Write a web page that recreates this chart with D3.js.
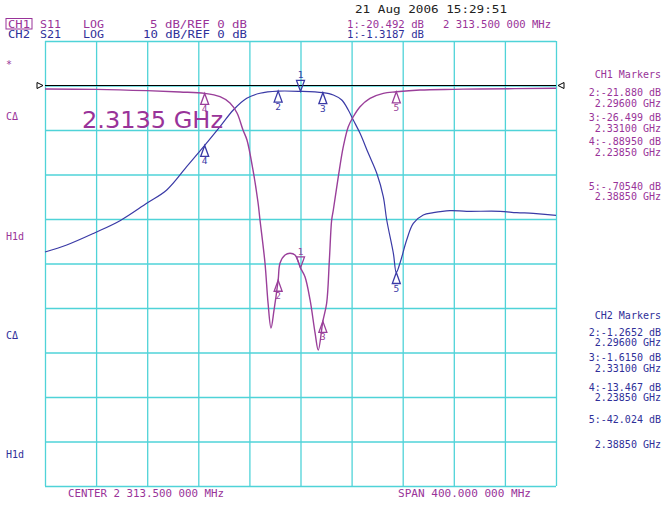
<!DOCTYPE html>
<html>
<head>
<meta charset="utf-8">
<script src="https://d3js.org/d3.v7.min.js"></script>
<style>
  body { margin: 0; background: white; }
  text { font-family: "DejaVu Sans Mono", monospace; font-size: 10px; }
</style>
</head>
<body>
<script>
  // Network analyzer screen: CH1 = S11 (5 dB/div), CH2 = S21 (10 dB/div)
  var width = 664;
  var height = 505;

  // S11 trace, frequency in MHz and level in dB
  var s11Freq = [2113.5, 2153.4, 2193.3, 2219.2, 2238.5, 2250.5, 2258.3, 2263.8, 2268.5, 2271.6,
    2276.3, 2280.2, 2281.8, 2285.7, 2288.1, 2290.4, 2292.8, 2296.0, 2297.5, 2301.4,
    2305.3, 2309.2, 2313.5, 2317.0, 2321.0, 2324.9, 2327.4, 2331.0, 2334.0, 2336.1,
    2337.9, 2339.2, 2343.1, 2347.0, 2350.9, 2354.8, 2360.1, 2367.9, 2378.3, 2388.5,
    2407.0, 2432.9, 2454.0, 2513.5];
  var s11Db = [-0.39, -0.43, -0.58, -0.73, -0.89, -1.26, -1.97, -3.09, -5.0, -6.12,
    -9.49, -13.09, -15.11, -19.94, -24.44, -27.25, -25.22, -21.88, -19.94, -19.04,
    -18.85, -19.04, -20.49, -21.48, -24.1, -27.8, -29.72, -26.5, -24.44, -19.6,
    -15.11, -13.99, -10.25, -6.88, -4.63, -3.51, -2.38, -1.44, -0.88, -0.71,
    -0.51, -0.43, -0.39, -0.31];

  // S21 trace
  var s21Freq = [2113.5, 2130.5, 2152.6, 2172.2, 2193.1, 2208.8, 2224.4, 2238.5, 2250.5, 2260.9,
    2271.4, 2281.8, 2296.0, 2313.5, 2331.0, 2339.2, 2345.8, 2350.9, 2354.8, 2360.1,
    2366.6, 2373.2, 2378.3, 2381.0, 2386.2, 2388.5, 2391.4, 2396.6, 2401.8, 2409.6,
    2417.5, 2430.5, 2443.6, 2469.7, 2482.7, 2495.7, 2513.5];
  var s21Db = [-37.42, -35.84, -33.08, -30.38, -26.47, -23.48, -18.25, -13.47, -9.26, -5.51,
    -2.88, -1.75, -1.27, -1.32, -1.62, -2.13, -3.26, -5.51, -7.75, -10.74,
    -15.24, -19.73, -24.99, -30.22, -37.71, -42.02, -39.89, -34.72, -30.97, -29.1,
    -28.58, -28.13, -28.27, -28.27, -28.58, -28.72, -29.17];

  // markers
  var markerIds = ["1", "2", "3", "4", "5"];
  var markerFreq = [2313.5, 2296.0, 2331.0, 2238.5, 2388.5];
  var s11MarkerDb = [-20.492, -21.880, -26.499, -0.8895, -0.7054];
  var s21MarkerDb = [-1.3187, -1.2652, -1.6150, -13.467, -42.024];
  var ch1MarkerText = ["2:-21.880 dB", "2.29600 GHz", "3:-26.499 dB", "2.33100 GHz",
    "4:-.88950 dB", "2.23850 GHz", "5:-.70540 dB", "2.38850 GHz"];
  var ch2MarkerText = ["2:-1.2652 dB", "2.29600 GHz", "3:-1.6150 dB", "2.33100 GHz",
    "4:-13.467 dB", "2.23850 GHz", "5:-42.024 dB", "2.38850 GHz"];

  var magenta = "#9a3f9a";
  var magentaText = "#993399";
  var blue = "#3a3aa6";
  var blueText = "#2f2f99";
  var gridColor = "#4fd3d8";

  var svg = d3.select("body").append("svg")
    .attr("width", width)
    .attr("height", height);

  // plot area
  var plotLeft = 45, plotRight = 556, plotTop = 41, plotBottom = 486;

  var x = d3.scaleLinear().domain([2113.5, 2513.5]).range([plotLeft, plotRight]);
  var y1 = d3.scaleLinear().domain([5, -45]).range([plotTop, plotBottom]);   // CH1 5 dB/div
  var y2 = d3.scaleLinear().domain([10, -90]).range([plotTop, plotBottom]);  // CH2 10 dB/div

  // grid using axes with full length ticks
  var xGrid = d3.range(0, 11).map(function(i) { return 2113.5 + i * 40; });
  var yGrid = d3.range(0, 11).map(function(i) { return 5 - i * 5; });

  svg.append("g")
    .attr("transform", "translate(0," + plotBottom + ")")
    .call(d3.axisBottom(x).tickValues(xGrid).tickSize(-(plotBottom - plotTop)).tickFormat(""))
    .call(function(g) {
      g.select(".domain").remove();
      g.selectAll("line").attr("stroke", gridColor).attr("stroke-width", 1.3);
    });

  svg.append("g")
    .attr("transform", "translate(" + plotLeft + ",0)")
    .call(d3.axisLeft(y1).tickValues(yGrid).tickSize(-(plotRight - plotLeft)).tickFormat(""))
    .call(function(g) {
      g.select(".domain").remove();
      g.selectAll("line").attr("stroke", gridColor).attr("stroke-width", 1.3);
    });

  // reference line at 0 dB
  var refY = y1(0);
  svg.append("line")
    .attr("x1", plotLeft).attr("x2", plotRight)
    .attr("y1", refY).attr("y2", refY)
    .attr("stroke", "black").attr("stroke-width", 1.2);
  svg.append("path")
    .attr("d", "M" + (plotLeft - 8) + "," + (refY - 3) + " L" + (plotLeft - 2) + "," + refY + " L" + (plotLeft - 8) + "," + (refY + 3) + " Z")
    .attr("fill", "none").attr("stroke", "black");
  svg.append("path")
    .attr("d", "M" + (plotRight + 8) + "," + (refY - 3) + " L" + (plotRight + 2) + "," + refY + " L" + (plotRight + 8) + "," + (refY + 3) + " Z")
    .attr("fill", "none").attr("stroke", "black");

  // traces
  var s11Line = d3.line()
    .x(function(d, i) { return x(s11Freq[i]); })
    .y(function(d) { return y1(d); })
    .curve(d3.curveCatmullRom);
  var s21Line = d3.line()
    .x(function(d, i) { return x(s21Freq[i]); })
    .y(function(d) { return y2(d); })
    .curve(d3.curveCatmullRom);

  svg.append("path")
    .attr("d", s21Line(s21Db))
    .attr("fill", "none").attr("stroke", blue).attr("stroke-width", 1.2);
  svg.append("path")
    .attr("d", s11Line(s11Db))
    .attr("fill", "none").attr("stroke", magenta).attr("stroke-width", 1.4);

  // marker triangles: 1 points down from above, the rest point up from below
  function drawMarkers(yScale, values, color) {
    values.forEach(function(v, i) {
      var mx = x(markerFreq[i]);
      var my = yScale(v);
      var d, ly;
      if (i == 0) {
        d = "M" + mx + "," + my + " L" + (mx - 4) + "," + (my - 11) + " L" + (mx + 4) + "," + (my - 11) + " Z";
        ly = my - 13;
      } else {
        d = "M" + mx + "," + my + " L" + (mx - 4) + "," + (my + 11) + " L" + (mx + 4) + "," + (my + 11) + " Z";
        ly = my + 19;
      }
      svg.append("path")
        .attr("d", d)
        .attr("fill", "none").attr("stroke", color).attr("stroke-width", 1.3);
      svg.append("text")
        .attr("x", mx).attr("y", ly)
        .attr("text-anchor", "middle")
        .style("font-size", "9.5px")
        .attr("fill", color)
        .text(markerIds[i]);
    });
  }
  drawMarkers(y2, s21MarkerDb, blue);
  drawMarkers(y1, s11MarkerDb, magenta);

  // big frequency readout
  svg.append("text")
    .attr("x", 82).attr("y", 128)
    .style("font-family", "DejaVu Sans")
    .style("font-size", "23px")
    .attr("textLength", 141)
    .attr("lengthAdjust", "spacingAndGlyphs")
    .attr("fill", magentaText)
    .text("2.3135 GHz");

  // header text
  function label(tx, ty, str, color, len) {
    var t = svg.append("text")
      .attr("x", tx).attr("y", ty)
      .attr("fill", color)
      .text(str);
    if (len) t.attr("textLength", len).attr("lengthAdjust", "spacingAndGlyphs");
    return t;
  }

  svg.append("rect")
    .attr("x", 6).attr("y", 18.5).attr("width", 26).attr("height", 10.5)
    .attr("fill", "none").attr("stroke", magentaText).attr("stroke-width", 1);
  label(8, 27.5, "CH1", magentaText, 22);
  label(40, 27.5, "S11", magentaText, 21);
  label(83, 27.5, "LOG", magentaText, 21);
  label(150, 27.5, "5 dB/REF 0 dB", magentaText, 97);
  label(8, 37.5, "CH2", blueText, 22);
  label(40, 37.5, "S21", blueText, 21);
  label(83, 37.5, "LOG", blueText, 21);
  label(143, 37.5, "10 dB/REF 0 dB", blueText, 104);

  label(355, 12.5, "21 Aug 2006  15:29:51", "#222", 152);
  label(347, 27.5, "1:-20.492 dB", magentaText, 77);
  label(443, 27.5, "2 313.500 000 MHz", magentaText, 108);
  label(347, 37.5, "1:-1.3187 dB", blueText, 77);

  // left status labels
  label(6, 68, "*", magentaText);
  label(6, 120, "CΔ", magentaText);
  label(6, 240, "H1d", magentaText);
  label(6, 339, "CΔ", blueText);
  label(6, 458, "H1d", blueText);

  // marker tables on the right
  var ch1Y = [95.5, 106.5, 120.5, 132, 145, 155.5, 189.5, 200];
  var ch2Y = [336, 346, 361, 372, 390.5, 401, 423, 447.5];
  label(661, 77.5, "CH1 Markers", magentaText).attr("text-anchor", "end");
  ch1MarkerText.forEach(function(s, i) {
    label(661, ch1Y[i], s, magentaText).attr("text-anchor", "end");
  });
  label(661, 318.5, "CH2 Markers", blueText).attr("text-anchor", "end");
  ch2MarkerText.forEach(function(s, i) {
    label(661, ch2Y[i], s, blueText).attr("text-anchor", "end");
  });

  // bottom
  label(68, 497, "CENTER 2 313.500 000 MHz", magentaText, 156);
  label(398, 497, "SPAN  400.000 000 MHz", magentaText, 133);
</script>
</body>
</html>
